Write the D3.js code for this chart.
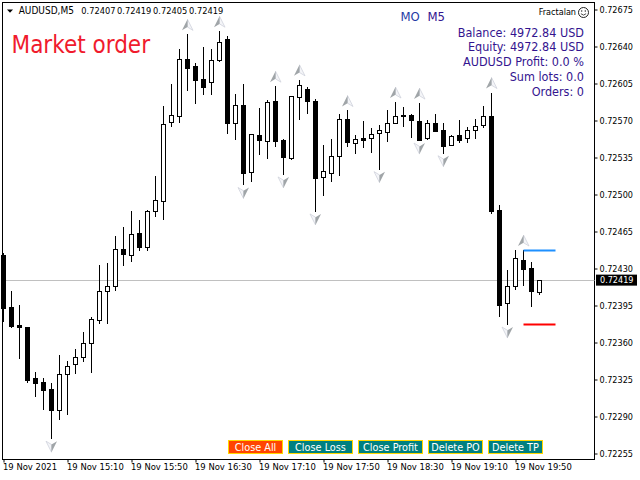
<!DOCTYPE html>
<html><head><meta charset="utf-8">
<style>html,body{margin:0;padding:0;background:#fff}svg{display:block}
text{font-family:"DejaVu Sans",sans-serif;font-stretch:condensed}</style>
<script src="https://cdnjs.cloudflare.com/ajax/libs/d3/7.8.5/d3.min.js"></script>
</head><body><svg id="c" width="640" height="480"></svg>
<script>
const opens  = [.72442,.72393,.72376,.72374,.72326,.72322,.72316,.72296,.72330,.72339,.72346,.72359,.72381,.72408,.72413,.72448,.72442,.72463,.72450,.72484,.72493,.72568,.72574,.72628,.72621,.72609,.72606,.72627,.72647,.72567,.72584,.72521,.72556,.72550,.72588,.72551,.72534,.72592,.72599,.72588,.72516,.72520,.72536,.72571,.72548,.72553,.72553,.72558,.72559,.72567,.72574,.72575,.72569,.72553,.72567,.72561,.72546,.72556,.72553,.72561,.72565,.72574,.72485,.72397,.72413,.72438,.72430,.72407];
const highs  = [.72444,.72408,.72395,.72374,.72332,.72326,.72321,.72348,.72342,.72353,.72369,.72384,.72433,.72435,.72460,.72469,.72484,.72475,.72485,.72517,.72583,.72604,.72637,.72651,.72624,.72639,.72637,.72654,.72649,.72595,.72604,.72557,.72581,.72589,.72602,.72552,.72593,.72608,.72601,.72590,.72546,.72552,.72576,.72579,.72556,.72569,.72562,.72565,.72579,.72587,.72582,.72576,.72586,.72570,.72576,.72567,.72556,.72570,.72563,.72571,.72583,.72596,.72490,.72428,.72447,.72447,.72436,.72419];
const lows   = [.72380,.72374,.72345,.72322,.72309,.72297,.72269,.72287,.72292,.72331,.72342,.72332,.72378,.72378,.72409,.72433,.72437,.72447,.72447,.72479,.72476,.72564,.72568,.72598,.72586,.72595,.72595,.72626,.72558,.72552,.72509,.72512,.72538,.72534,.72545,.72519,.72533,.72571,.72577,.72484,.72499,.72512,.72518,.72545,.72539,.72544,.72540,.72524,.72550,.72567,.72564,.72554,.72551,.72552,.72560,.72539,.72546,.72549,.72549,.72553,.72563,.72482,.72385,.72377,.72410,.72414,.72394,.72405];
const closes = [.72392,.72375,.72374,.72324,.72321,.72315,.72296,.72330,.72337,.72346,.72359,.72382,.72408,.72413,.72448,.72443,.72462,.72450,.72484,.72494,.72566,.72575,.72628,.72619,.72608,.72601,.72627,.72644,.72567,.72584,.72520,.72557,.72551,.72587,.72550,.72535,.72593,.72603,.72588,.72515,.72522,.72536,.72571,.72549,.72552,.72551,.72557,.72561,.72567,.72574,.72575,.72570,.72551,.72567,.72560,.72545,.72555,.72551,.72561,.72564,.72574,.72484,.72395,.72413,.72439,.72429,.72408,.72419];
const fractalUp = [23,27,34,37,43,49,52,61,65];
const fractalDown = [6,30,35,39,47,52,55,63];
const priceTicks = [.72675,.72640,.72605,.72570,.72535,.72500,.72465,.72430,.72395,.72360,.72325,.72290,.72255];
const timeTickIndex = [0,8,16,24,32,40,48,56,64];
const timeTickLabels = ["19 Nov 2021","19 Nov 15:10","19 Nov 15:50","19 Nov 16:30","19 Nov 17:10","19 Nov 17:50","19 Nov 18:30","19 Nov 19:10","19 Nov 19:50"];
const lastPrice = .72419;
const tpPrice = .72447, slPrice = .72377;
const orderSpan = [65,69];
const headerText = ["AUDUSD,M5","0.72407","0.72419","0.72405","0.72419"];
const infoLines = ["Balance: 4972.84 USD","Equity: 4972.84 USD","AUDUSD Profit: 0.0 %","Sum lots: 0.0","Orders: 0"];
const buttons = ["Close All","Close Loss","Close Profit","Delete PO","Delete TP"];

const svg = d3.select("#c");
const x = d3.scaleLinear().domain([0,8]).range([3.5,67.5]);
const y = d3.scaleLinear().domain([.72675,.72255]).range([9.5,453.5]);
const L=2.5,T=2.5,R=594.5,B=459.5;
const px=v=>Math.round(y(v)-.5)+.5;

svg.append("rect").attr("x",L).attr("y",T).attr("width",R-L).attr("height",B-T).attr("fill","#fff").attr("stroke","#000");

// last price line
svg.append("line").attr("x1",L).attr("x2",R).attr("y1",px(lastPrice)).attr("y2",px(lastPrice)).attr("stroke","#c0c0c0");

// candles
const data = opens.map((o,i)=>({i,o,h:highs[i],l:lows[i],c:closes[i]}));
const g = svg.append("g").selectAll("g").data(data).join("g");
g.append("line").attr("x1",d=>x(d.i)).attr("x2",d=>x(d.i)).attr("y1",d=>px(d.h)-.5).attr("y2",d=>px(d.l)+.5).attr("stroke","#000");
g.append("rect").attr("x",d=>x(d.i)-2).attr("width",4)
 .attr("y",d=>px(Math.max(d.o,d.c))).attr("height",d=>Math.max(px(Math.min(d.o,d.c))-px(Math.max(d.o,d.c)),1))
 .attr("fill",d=>d.c>=d.o?"#fff":"#000").attr("stroke","#000");

// fractal arrows
const arrow=(sel,dir)=>{
  sel.append("path").attr("d","M5.5,5.5L0,-5.5L0,2.2Z").attr("fill","#f4f5f8").attr("stroke","#cfd2dc").attr("stroke-width",.8);
  sel.append("path").attr("d","M-5.5,5.5L0,-5.5L0,2.2Z").attr("fill","#a0a5a8");
  sel.attr("transform",d=>dir>0?`translate(${x(d)},${y(highs[d])-10})`:`translate(${x(d)},${y(lows[d])+8}) rotate(180)`);
};
arrow(svg.append("g").selectAll("g").data(fractalUp).join("g"),1);
arrow(svg.append("g").selectAll("g").data(fractalDown).join("g"),-1);

// order lines
svg.append("line").attr("x1",x(orderSpan[0])).attr("x2",x(orderSpan[1])).attr("y1",y(tpPrice)).attr("y2",y(tpPrice)).attr("stroke","#1e90ff").attr("stroke-width",2);
svg.append("line").attr("x1",x(orderSpan[0])).attr("x2",x(orderSpan[1])).attr("y1",y(slPrice)).attr("y2",y(slPrice)).attr("stroke","#f00").attr("stroke-width",2);

// axes
const ya = d3.axisRight(y).tickValues(priceTicks).tickFormat(d3.format(".5f")).tickSize(3).tickPadding(2);
const yg = svg.append("g").attr("transform",`translate(${R},0)`).call(ya);
yg.select(".domain").remove();
yg.selectAll("text").attr("font-size",9).attr("fill","#000");
const xa = d3.axisBottom(x).tickValues(timeTickIndex).tickFormat((d,i)=>timeTickLabels[i]).tickSize(3).tickPadding(1);
const xg = svg.append("g").attr("transform",`translate(0,${B})`).call(xa);
xg.select(".domain").remove();
xg.selectAll("text").attr("text-anchor","start").attr("dx",-1).attr("font-size",9.4).attr("fill","#000");

// last price label
svg.append("rect").attr("x",596).attr("y",y(lastPrice)-5.5).attr("width",41).attr("height",11).attr("fill","#000");
svg.append("text").attr("x",600).attr("y",y(lastPrice)+3.3).attr("font-size",9).attr("fill","#fff").text(d3.format(".5f")(lastPrice));

// header
svg.append("path").attr("d","M7,9.5L13,9.5L10,12.8Z").attr("fill","#000");
const hx=[18.7,81.3,117,153,189];
headerText.forEach((t,i)=>svg.append("text").attr("x",hx[i]).attr("y",14).attr("font-size",i?9.2:10).attr("fill","#000").text(t));

// title
svg.append("text").attr("x",11.5).attr("y",53).attr("font-size",24).attr("fill","#f01b2d").text("Market order");
svg.append("text").attr("x",400.5).attr("y",21).attr("font-size",13).attr("fill","#1f3aa5").text("MO");
svg.append("text").attr("x",427.5).attr("y",21).attr("font-size",13).attr("fill","#33148f").text("M5");
svg.append("text").attr("x",576).attr("y",15).attr("text-anchor","end").attr("font-size",9).attr("fill","#000").text("Fractalan");
const s=svg.append("g").attr("transform","translate(583.5,12.5)");
s.append("circle").attr("r",5).attr("fill","none").attr("stroke","#222");
s.append("circle").attr("cx",-1.8).attr("cy",-1.5).attr("r",.7).attr("fill","#222");
s.append("circle").attr("cx",1.8).attr("cy",-1.5).attr("r",.7).attr("fill","#222");
s.append("path").attr("d","M-2.6,1.2Q0,4 2.6,1.2").attr("fill","none").attr("stroke","#222").attr("stroke-width",.8);

svg.append("g").selectAll("text").data(infoLines).join("text")
 .attr("x",584).attr("y",(d,i)=>36.5+i*14.8).attr("text-anchor","end").attr("font-size",12.5).attr("fill","#33148f").text(d=>d);

// buttons
const bx=[228.5,288.5,358.5,428.5,488.5], bw=[54,64,64,54,54];
const bg=svg.append("g").selectAll("g").data(buttons).join("g").attr("transform",(d,i)=>`translate(${bx[i]},440.5)`);
bg.append("rect").attr("width",(d,i)=>bw[i]).attr("height",13).attr("fill",(d,i)=>i==0?"#ff4500":"#008080").attr("stroke","#ffd700");
bg.append("text").attr("x",(d,i)=>bw[i]/2).attr("y",10.5).attr("text-anchor","middle").attr("font-size",10.8).attr("fill","#fff").text(d=>d);
</script></body></html>
